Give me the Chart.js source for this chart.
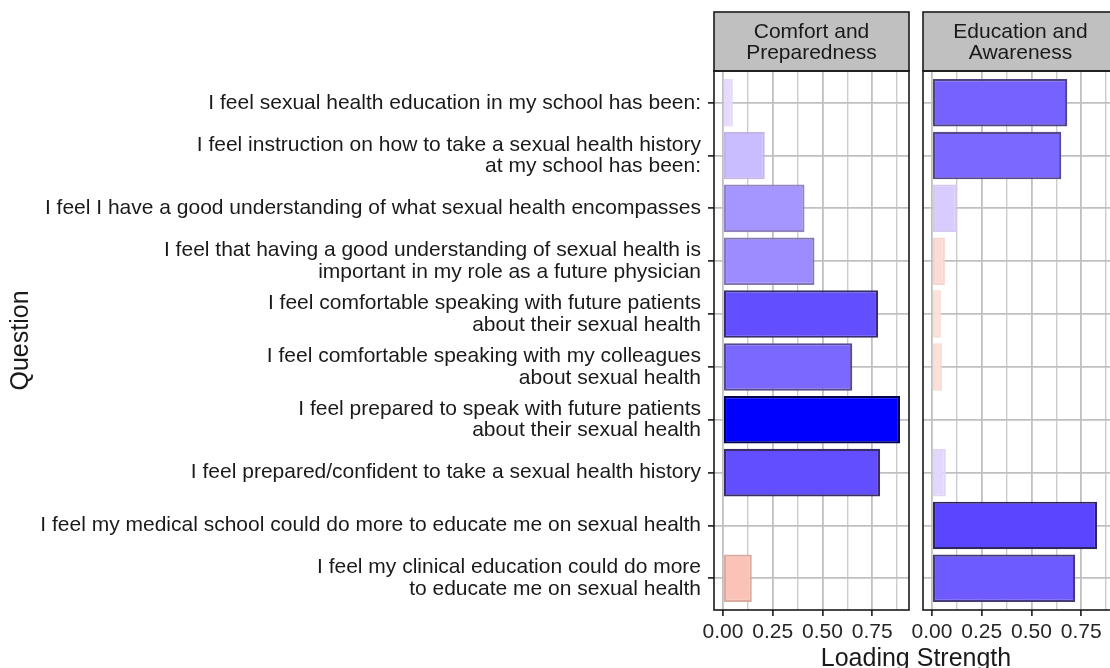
<!DOCTYPE html>
<html>
<head>
<meta charset="utf-8">
<script src="https://cdn.jsdelivr.net/npm/chart.js@4.4.1/dist/chart.umd.min.js"></script>
<style>
  html, body { margin: 0; padding: 0; background: #fff; overflow: hidden; }
  #wrap { position: relative; width: 1110px; height: 668px; overflow: hidden; }
  canvas { position: absolute; top: 0; }
  #c1 { left: 0; }
  #c2 { left: 896px; }
</style>
</head>
<body>
<div id="wrap">
  <canvas id="c1" width="1110" height="668"></canvas>
  <canvas id="c2" width="240" height="668"></canvas>
</div>
<script>
// questions, top to bottom
const questions = [
  "I feel sexual health education in my school has been:",
  ["I feel instruction on how to take a sexual health history", "at my school has been:"],
  "I feel I have a good understanding of what sexual health encompasses",
  ["I feel that having a good understanding of sexual health is", "important in my role as a future physician"],
  ["I feel comfortable speaking with future patients", "about their sexual health"],
  ["I feel comfortable speaking with my colleagues", "about sexual health"],
  ["I feel prepared to speak with future patients", "about their sexual health"],
  "I feel prepared/confident to take a sexual health history",
  "I feel my medical school could do more to educate me on sexual health",
  ["I feel my clinical education could do more", "to educate me on sexual health"]
];

const panelTitles = [
  ["Comfort and", "Preparedness"],
  ["Education and", "Awareness"]
];

// signed loadings (negative = red side of the scale)
const comfort = [0.05, 0.21, 0.41, 0.46, 0.78, 0.65, 0.89, 0.79, 0.00, -0.145];
const education = [0.68, 0.65, 0.125, -0.065, -0.045, -0.05, 0.00, 0.07, 0.83, 0.72];

const gridValues = [0, 0.125, 0.25, 0.375, 0.5, 0.625, 0.75, 0.875];
const majorValues = [0, 0.25, 0.5, 0.75];
const tickLabels = ["0.00", "0.25", "0.50", "0.75"];

const FONT = '"Liberation Sans", Arial, sans-serif';

// colour scale stops: [loading, [r, g, b]]
const posStops = [[0, [238, 228, 255]], [0.85, [87, 66, 255]], [0.89, [0, 0, 255]]];
const negStops = [[0, [253, 238, 232]], [0.15, [251, 194, 182]]];

function colourAt(stops, v){
  let i = 0;
  while(i < stops.length - 2 && v > stops[i + 1][0]) i++;
  const [v0, c0] = stops[i];
  const [v1, c1] = stops[i + 1];
  const t = Math.min(Math.max((v - v0) / (v1 - v0), 0), 1);
  return c0.map((c, k) => Math.round(c + (c1[k] - c) * t));
}

function shade(v){
  const rgb = v >= 0 ? colourAt(posStops, v) : colourAt(negStops, -v);
  const t = v >= 0 ? Math.min(v / 0.89, 1) : Math.min(-v / 0.3, 1);
  const k = 1 - 0.55 * t * t;
  const kb = v >= 0 ? k * (1 - 0.3 * t) : k;
  return {
    fill: `rgb(${rgb[0]},${rgb[1]},${rgb[2]})`,
    line: `rgb(${Math.round(rgb[0] * k)},${Math.round(rgb[1] * k)},${Math.round(rgb[2] * kb)})`
  };
}

function bars(values){
  return {
    data: values.map((v, i) => ({ x: Math.abs(v), y: i })),
    backgroundColor: values.map(v => shade(v).fill),
    borderColor: values.map(v => shade(v).line),
    borderWidth: 2.2,
    borderSkipped: false,
    barPercentage: 0.9,
    categoryPercentage: 1
  };
}

// strip on top + panel border
const panelDecor = {
  id: 'panelDecor',
  afterDatasetsDraw(chart, args, opts){
    const { ctx, chartArea: a } = chart;
    ctx.save();
    ctx.fillStyle = '#c0c0c0';
    ctx.fillRect(a.left, 12, a.right - a.left, a.top - 12);
    ctx.strokeStyle = '#1a1a1a';
    ctx.lineWidth = 1.6;
    ctx.strokeRect(a.left, 12, a.right - a.left, a.top - 12);
    ctx.strokeRect(a.left, a.top, a.right - a.left, a.bottom - a.top);

    ctx.fillStyle = '#1a1a1a';
    ctx.font = '21px ' + FONT;
    ctx.textAlign = 'center';
    ctx.textBaseline = 'middle';
    opts.strip.forEach((line, i) => {
      ctx.fillText(line, (a.left + a.right) / 2, 32 + i * 21);
    });

    if(opts.xTitle){
      ctx.font = '25px ' + FONT;
      ctx.textBaseline = 'alphabetic';
      ctx.fillText(opts.xTitle, 916, 666);
    }
    ctx.restore();
  }
};

function makeOptions(first, strip){
  return {
    indexAxis: 'y',
    responsive: false,
    animation: false,
    layout: {
      padding: first
        ? { top: 71, left: 0, right: 201, bottom: 0 }
        : { top: 71, left: 27, right: 18, bottom: 0 }
    },
    plugins: {
      legend: { display: false },
      tooltip: { enabled: false },
      panelDecor: { strip: strip, xTitle: first ? 'Loading Strength' : null }
    },
    scales: {
      x: {
        type: 'linear',
        min: -0.045,
        max: 0.935,
        afterBuildTicks: s => { s.ticks = gridValues.map(v => ({ value: v })); },
        afterFit: s => { s.height = 58; },
        border: { display: false },
        grid: {
          color: c => majorValues.includes(c.tick.value) ? '#c0c0c0' : '#cccccc',
          lineWidth: c => majorValues.includes(c.tick.value) ? 1.8 : 1.4,
          tickLength: 6,
          tickWidth: 1.6,
          tickColor: c => majorValues.includes(c.tick.value) ? '#1a1a1a' : 'rgba(0,0,0,0)'
        },
        ticks: {
          autoSkip: false,
          maxRotation: 0,
          padding: 4,
          color: '#262626',
          font: { family: FONT, size: 21 },
          callback: v => {
            const k = majorValues.indexOf(v);
            return k >= 0 ? tickLabels[k] : '';
          }
        }
      },
      y: {
        type: 'linear',
        min: -0.6,
        max: 9.6,
        reverse: true,
        offset: false,
        afterBuildTicks: s => { s.ticks = questions.map((q, i) => ({ value: i })); },
        afterFit: s => { s.width = first ? 714 : 0; },
        border: { display: false },
        grid: {
          offset: false,
          color: '#c0c0c0',
          lineWidth: 1.8,
          drawTicks: first,
          tickLength: 6,
          tickWidth: 1.6,
          tickColor: '#1a1a1a'
        },
        ticks: {
          display: first,
          autoSkip: false,
          padding: 7,
          color: '#1a1a1a',
          font: { family: FONT, size: 21, lineHeight: 1.03 },
          callback: v => questions[v]
        },
        title: {
          display: first,
          text: 'Question',
          color: '#1a1a1a',
          font: { family: FONT, size: 25 },
          padding: { top: 6, bottom: 0 }
        }
      }
    }
  };
}

new Chart(document.getElementById('c1'), {
  type: 'bar',
  data: { datasets: [bars(comfort)] },
  options: makeOptions(true, panelTitles[0]),
  plugins: [panelDecor]
});

new Chart(document.getElementById('c2'), {
  type: 'bar',
  data: { datasets: [bars(education)] },
  options: makeOptions(false, panelTitles[1]),
  plugins: [panelDecor]
});
</script>
</body>
</html>
